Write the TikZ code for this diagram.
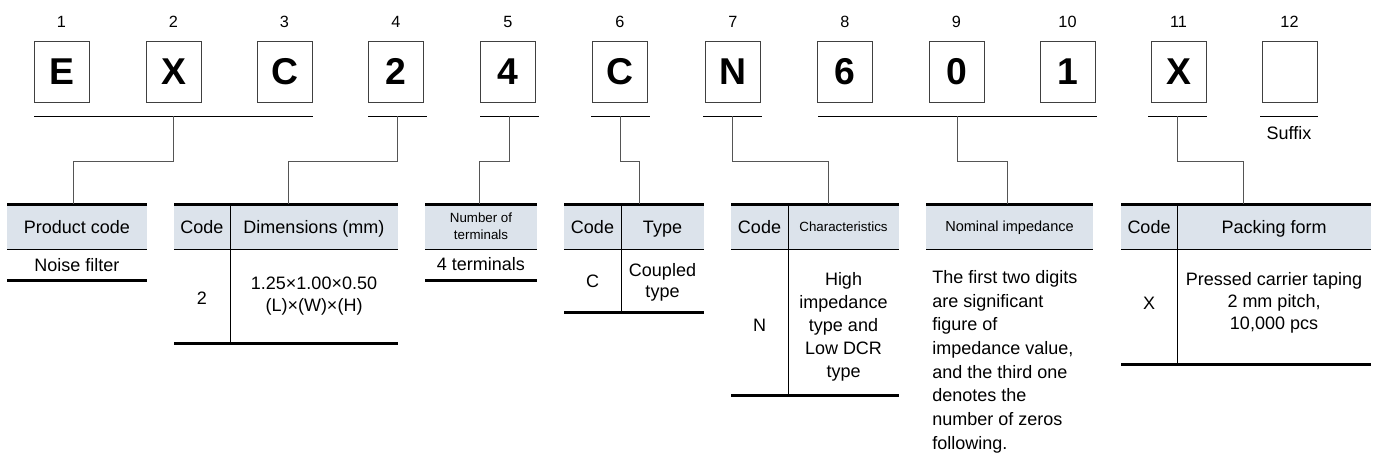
\documentclass[tikz,border=0pt]{standalone}
\usepackage{fontspec}
\setmainfont{Liberation Sans}
\definecolor{hdrfill}{RGB}{220,227,235}
\definecolor{linkgray}{RGB}{85,85,85}

\begin{document}
\begin{tikzpicture}[x=0.75pt,y=-0.75pt,
  every node/.style={font=\fontsize{13.5}{17}\selectfont, inner sep=0pt},
  cell/.style={text height=11pt, text depth=1.9pt},
  digit/.style={draw=black!75, line width=0.75pt, minimum width=41.25pt, minimum height=45.75pt, font=\bfseries\fontsize{28}{28}\selectfont},
  num/.style={font=\fontsize{12.2}{14}\selectfont},
  link/.style={draw=linkgray, line width=0.75pt},
  rule/.style={line width=2.25pt},
  hair/.style={line width=0.75pt},
  small/.style={font=\fontsize{10}{12.75}\selectfont, align=center}]
    \useasboundingbox (0,0) rectangle (1376,468);
    \foreach \i/\x/\c in {1/61.5/E, 2/173.5/X, 3/284.5/C, 4/396/2, 5/508/4, 6/620/C, 7/733/N, 8/845/6, 9/956.5/0, 10/1067.5/1, 11/1178.5/X, 12/1289.5/{}} {
        \node[digit] (b\i) at (\x,71.5) {\c};
        \node[num] (n\i) at (\x,22) {\i};
    }
    \foreach \a/\b/\n in {34/313/u1, 368/427/u2, 480/539/u3, 591/650/u4, 703/762/u5, 818/1097/u6, 1148/1207/u7, 1260/1318/u8}
        \draw[hair] (\a,116) -- (\b,116) coordinate[midway] (\n);
    \node[cell] (sfx) at (1289,133) {Suffix};

    \foreach \l/\r in {7/147, 174/398, 425/537, 564/704, 731/899, 926/1093, 1121/1371} {
        \fill[hdrfill] (\l,204) rectangle (\r,249);
        \draw[hair] (\l,249) -- (\r,249);
        \draw[rule] (\l,204) -- (\r,204);
    }
    \foreach \l/\r/\bot in {7/147/280, 174/398/343, 425/537/280, 564/704/312, 731/899/395, 1121/1371/364}
        \draw[rule] (\l,\bot) -- (\r,\bot);
    \foreach \x/\bot in {230/343, 621/312, 788/395, 1177/364}
        \draw[hair] (\x,204) -- (\x,\bot);

    \coordinate (t1) at (73,204);
    \coordinate (t2) at (288,204);
    \coordinate (t3) at (479,204);
    \coordinate (t4) at (639,204);
    \coordinate (t5) at (828,204);
    \coordinate (t6) at (1007,204);
    \coordinate (t7) at (1243,204);
    \foreach \u/\t in {u1/t1, u2/t2, u3/t3, u4/t4, u5/t5, u6/t6, u7/t7}
        \draw[link] (\u) -- ++(0,45) -| (\t);

    \node[cell] (h1) at (77,227) {Product code};
    \node[cell] (d1) at (77,265) {Noise filter};

    \node[cell] (h2a) at (202,227) {Code};
    \node[cell] (h2b) at (314,227) {Dimensions (mm)};
    \node[cell] (d2a) at (202,298) {2};
    \node[align=center, font=\fontsize{13.5}{16.5}\selectfont] (d2b) at (314,296) {1.25×1.00×0.50\\(L)×(W)×(H)};

    \node[small] (h3) at (481,226) {Number of\\terminals};
    \node[cell] (d3) at (481,264) {4 terminals};

    \node[cell] (h4a) at (592.5,227) {Code};
    \node[cell] (h4b) at (662.5,227) {Type};
    \node[cell] (d4a) at (592.5,281) {C};
    \node[align=center, font=\fontsize{13.5}{15.75}\selectfont] (d4b) at (662.5,282) {Coupled\\type};

    \node[cell] (h5a) at (759.5,227) {Code};
    \node[font=\fontsize{10}{12}\selectfont, text height=8.1pt, text depth=1.4pt] (h5b) at (843.5,227) {Characteristics};
    \node[cell] (d5a) at (759.5,325) {N};
    \node[align=center, font=\fontsize{13.5}{17.25}\selectfont] (d5b) at (843.5,327) {High\\impedance\\type and\\Low DCR\\type};

    \node[font=\fontsize{10.9}{13}\selectfont, text height=8.8pt, text depth=1.5pt] (h6) at (1009.5,227) {Nominal impedance};
    \node[align=left, anchor=north west, font=\fontsize{13.5}{17.8}\selectfont] (d6) at (932,270) {The first two digits\\are significant\\figure of\\impedance value,\\and the third one\\denotes the\\number of zeros\\following.};

    \node[cell] (h7a) at (1149,227) {Code};
    \node[cell] (h7b) at (1274,227) {Packing form};
    \node[cell] (d7a) at (1149,303) {X};
    \node[align=center, font=\fontsize{13.5}{16.5}\selectfont] (d7b) at (1274,303) {Pressed carrier taping\\2 mm pitch,\\10,000 pcs};
\end{tikzpicture}
\end{document}
